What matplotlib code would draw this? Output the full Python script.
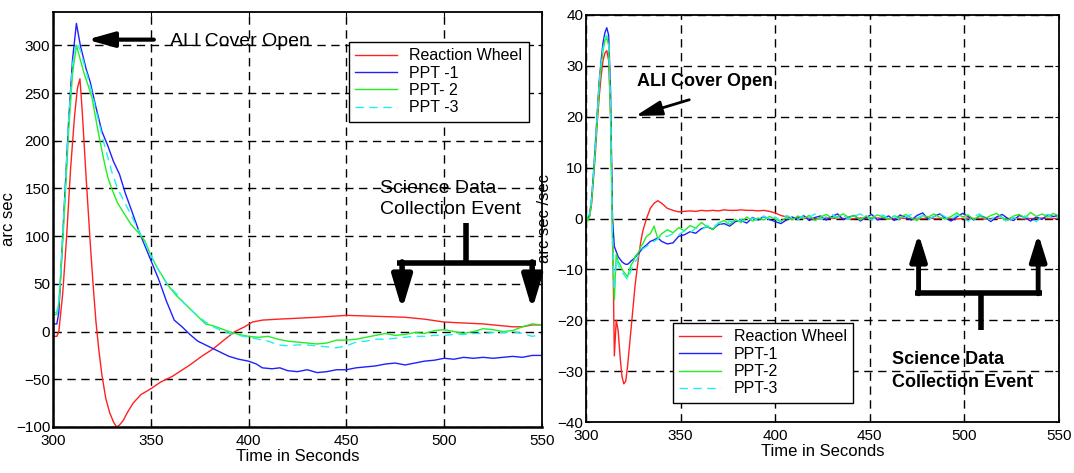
import numpy as np
import matplotlib
matplotlib.use("Agg")
import matplotlib.pyplot as plt

plt.rcParams['font.family'] = ['Liberation Sans', 'DejaVu Sans']

# ---- attitude error (arc sec) ----
t_rw = [300, 302, 303, 305, 307, 309, 311, 312.5, 313.8, 315, 317, 319, 320.5, 322, 323.5,
        325, 327, 329, 331, 332.5, 334, 336, 338, 341, 345, 350, 355, 361, 370, 376, 382,
        388, 393, 398, 402, 407, 415, 425, 435, 450, 465, 480, 490, 500, 510, 520, 530,
        535, 540, 545, 550]
err_rw = [-5, -5, 0, 40, 100, 170, 225, 255, 265, 230, 160, 95, 50, 10, -20,
          -45, -70, -85, -95, -100, -98, -93, -85, -75, -66, -60, -53, -47, -35, -26, -18,
          -8, 0, 5, 10, 12, 13, 14, 15, 17, 16, 15, 13, 10, 9, 8, 6,
          5, 5, 7, 7]

t_p1 = [300, 302, 303, 304, 306, 308, 310, 312, 314, 317, 319, 322, 325, 328, 331, 334,
        337, 340, 344, 348, 351, 354, 358, 362, 366, 370, 374, 378, 382, 386, 390, 395,
        400, 404, 407, 412, 416, 420, 425, 430, 435, 440, 445, 450, 455, 460, 465, 470,
        475, 480, 485, 490, 495, 500, 505, 510, 515, 520, 525, 530, 535, 540, 545, 550]
err_p1 = [8, 8, 20, 60, 140, 220, 285, 323, 300, 275, 262, 235, 210, 195, 178, 165,
          145, 128, 105, 85, 70, 55, 32, 12, 5, -3, -10, -14, -18, -22, -26, -29,
          -31, -34, -38, -39, -38, -41, -42, -40, -43, -42, -40, -40, -38, -37, -36, -34,
          -33, -35, -33, -31, -30, -28, -29, -27, -28, -27, -28, -27, -26, -27, -25, -25]

t_p23 = [300, 302, 303, 304, 306, 308, 310, 312, 314, 316, 318, 320, 322, 324, 326, 328,
         330, 333, 336, 340, 344, 347, 350, 353, 356, 359, 363, 367, 371, 375, 378, 382,
         386, 390, 395, 400, 405, 410, 415, 420, 425, 430, 435, 440, 445, 450, 455, 460,
         465, 470, 475, 480, 485, 490, 495, 500, 505, 510, 515, 520, 525, 530, 535, 540,
         545, 550]
err_p2 = [18, 18, 30, 60, 130, 210, 270, 300, 285, 270, 258, 245, 222, 200, 180, 162,
          150, 135, 125, 112, 103, 95, 80, 68, 58, 48, 38, 30, 22, 14, 8, 6,
          3, 0, -3, -5, -6, -5, -8, -10, -11, -12, -13, -12, -9, -9, -8, -6,
          -4, -2, -4, -3, -1, -2, 1, 2, 0, -2, 0, 3, 2, 0, 1, 5,
          8, 7]
err_p3 = [20, 20, 32, 65, 140, 220, 280, 303, 295, 280, 265, 250, 232, 215, 198, 183,
          168, 150, 138, 122, 105, 93, 80, 68, 57, 48, 40, 30, 22, 15, 10, 5,
          1, -2, -4, -6, -8, -10, -14, -15, -14, -14, -15, -16, -17, -15, -11, -10,
          -8, -8, -7, -6, -5, -5, -4, -4, -3, -3, -2, -2, -1, -1, 0, -2,
          -5, -3]

# ---- attitude rate (arc sec / sec) ----
t_rate = [300, 301, 302, 303, 304, 305, 306, 307, 308, 309, 310, 311, 312, 313, 314, 315,
          316, 317, 318, 319, 320, 321, 322, 323, 324, 325, 326, 327, 328, 329, 330, 332,
          334, 336, 338, 340] + list(range(343, 551, 3))

rate_rw = [0, 0.3, 0.5, 3, 8, 13, 19, 24, 28, 31, 32.5, 33, 31, 20, 0, -27,
           -20, -22, -27, -31, -32.5, -32, -29, -25, -21, -17, -13, -10, -7, -4.5, -2.5, 0,
           2, 3, 3.5, 3,
           2.0, 1.6, 1.3, 1.4, 1.5, 1.4, 1.6, 1.5, 1.6, 1.5,
           1.7, 1.6, 1.6, 1.7, 1.6, 1.6, 1.5, 1.6, 1.4, 1.1,
           0.6, 0.3, 0.1, 0.2, 0.0, 0.1, 0.0, -0.1, 0.1, 0.0,
           0.1, 0.0, -0.1, 0.0, 0.1, 0.0, 0.0, 0.1, 0.0, -0.1,
           0.0, 0.1, 0.0, 0.0, -0.1, 0.0, 0.1, 0.0, 0.0, 0.1,
           0.0, -0.1, 0.0, 0.1, 0.0, 0.0, -0.1, 0.0, 0.1, 0.0,
           0.0, 0.1, 0.0, -0.1, 0.0, 0.0, 0.1, 0.0, 0.0, 0.0]
rate_p1 = [0.5, 0, 1, 4, 9, 15, 21, 27, 31, 34.5, 36.5, 37.5, 36, 25, 0, -5.5,
           -6.5, -7.5, -8, -8.5, -8.8, -9, -9, -8.7, -8.3, -8, -7.6, -7.2, -6.8, -6.3, -5.8, -5.2,
           -4.5, -4.2, -3.8, -4.5,
           -5.0, -4.8, -3.5, -3.2, -2.6, -2.9, -2.0, -1.6, -2.1, -1.2,
           -1.0, -1.5, -0.6, -0.4, -0.9, 0.2, -0.3, 0.4, -0.2, -0.6,
           -1.0, -0.3, 0.3, -0.2, 0.6, -0.4, 0.2, 0.5, -0.3, 0.4,
           0.9, -0.2, 0.3, 0.6, -0.5, 0.2, 0.8, -0.3, 0.1, 0.5,
           -0.4, 0.7, 0.2, -0.3, 0.6, 1.1, -0.2, 0.4, 0.9, 0.1,
           -0.5, 0.3, 1.0, 0.4, -0.3, 0.5, 0.2, -0.6, 0.3, 0.8,
           0.0, -0.4, 0.6, 0.2, -0.5, 0.3, -0.2, 0.7, 0.4, 0.6]
rate_p2 = [1, -0.5, 0.5, 3.5, 8.5, 14, 20, 26, 30, 33, 35, 35.5, 34, 20, -5, -16,
           -7, -8.5, -9, -10, -10.5, -11, -11.5, -10, -9, -8.5, -7.5, -7, -6.5, -5.5, -5, -3.5,
           -3, -1.5, -4, -3,
           -2.2, -2.8, -1.8, -2.4, -1.4, -1.9, -0.8, -1.6, -2.2, -0.9,
           -0.4, -1.2, -0.2, -0.8, 0.3, -0.5, 0.1, -0.3, 0.4, -0.1,
           -0.6, 0.2, -0.3, 0.5, 0.0, 0.6, -0.4, 0.3, 0.8, 0.1,
           0.4, 0.9, 0.2, 0.6, -0.3, 0.5, 0.1, 0.7, 0.3, -0.2,
           0.5, 0.2, 0.8, 0.1, -0.4, 0.6, 0.3, 0.9, 0.2, -0.1,
           0.4, 1.1, 0.3, 0.7, -0.2, 0.5, 0.0, 0.6, 1.0, 0.2,
           -0.3, 0.5, 0.8, 0.1, 1.2, 0.4, 0.9, 0.3, 1.0, 0.5]
rate_p3 = [0, 0.5, 1, 4, 9, 14.5, 20.5, 26.5, 30.5, 33.5, 35.5, 36, 35, 22, -3, -14,
           -8, -9, -10, -10.5, -11, -11.5, -12, -11, -10, -9, -8.5, -8, -7, -6.5, -6, -5.5,
           -5, -4.5, -4, -3.5,
           -3.5, -3.0, -3.2, -2.4, -2.8, -1.9, -2.3, -1.4, -1.8, -0.9,
           -1.3, -0.5, -0.9, -0.2, -0.7, 0.1, -0.4, 0.5, -0.2, 0.3,
           -0.5, 0.6, 0.1, -0.3, 0.7, 0.2, 0.9, -0.2, 0.4, 0.8,
           0.1, 0.6, -0.2, 0.5, 0.9, 0.2, -0.3, 0.4, 0.7, 0.0,
           0.5, -0.4, 0.3, 0.8, 0.1, 0.6, -0.2, 0.4, 1.0, 0.3,
           -0.2, 0.7, 0.3, -0.5, 0.4, 0.9, 0.2, -0.3, 0.6, 0.1,
           -0.8, 0.3, -0.4, 0.5, 0.0, -0.6, 0.4, 0.8, -0.2, 0.3]

x_ticks = [300, 350, 400, 450, 500, 550]
err_ticks = [-100, -50, 0, 50, 100, 150, 200, 250, 300]
rate_ticks = [-40, -30, -20, -10, 0, 10, 20, 30, 40]

RED, BLUE, GREEN, CYAN = '#ff2020', '#1f1fff', '#22ee22', '#22eeee'


def style_axes(ax):
    ax.grid(True, color='black', linestyle=(0, (6, 4)), linewidth=1.0)
    ax.tick_params(direction='in', top=True, right=True, length=3, labelsize=11)
    ax.tick_params(axis='x', pad=5)
    ax.tick_params(axis='y', pad=2)
    for s in ax.spines.values():
        s.set_linewidth(1.3)
    ax.set_xlabel('Time in Seconds', fontsize=12, labelpad=1)


fig = plt.figure(figsize=(10.74, 4.73), dpi=100)

# left: error
ax1 = fig.add_axes([0.0493, 0.0973, 0.4553, 0.8774])
ax1.plot(t_rw, err_rw, color=RED, lw=1.0, label='Reaction Wheel')
ax1.plot(t_p1, err_p1, color=BLUE, lw=1.0, label='PPT -1')
ax1.plot(t_p23, err_p2, color=GREEN, lw=1.0, label='PPT- 2')
ax1.plot(t_p23, err_p3, color=CYAN, lw=1.0, ls=(0, (6, 4)), label='PPT -3')
ax1.set_xlim(300, 550)
ax1.set_ylim(-100, 335)
ax1.set_xticks(x_ticks)
ax1.set_yticks(err_ticks)
ax1.set_ylabel('arc sec', fontsize=12, labelpad=0)
style_axes(ax1)
ax1.spines['left'].set_linewidth(1.8)
ax1.spines['bottom'].set_linewidth(1.8)
leg1 = ax1.legend(loc='upper right', bbox_to_anchor=(0.973, 0.928), fontsize=11.5,
                  fancybox=False, framealpha=1, edgecolor='black', borderaxespad=0,
                  handlelength=2.6, labelspacing=0.15, borderpad=0.4)
leg1.get_frame().set_linewidth(1.0)

ax1.annotate('', xy=(316, 306), xytext=(353, 306),
             arrowprops=dict(arrowstyle='-|>,head_length=1.6,head_width=0.45',
                             mutation_scale=10, lw=3, color='black'))
ax1.text(360, 304, 'ALI Cover Open', fontsize=14, va='center', ha='left')
ax1.text(467, 139, 'Science Data\nCollection Event', fontsize=14, va='center',
         ha='left', linespacing=1.3)

# bracket pointing down at the data collection window
ax1.plot([511, 511], [114, 72], color='black', lw=4, solid_capstyle='butt')
ax1.plot([476, 547], [72, 72], color='black', lw=4, solid_capstyle='butt')
for xa in (478.5, 545):
    ax1.annotate('', xy=(xa, 23), xytext=(xa, 73),
                 arrowprops=dict(arrowstyle='-|>,head_length=2.0,head_width=0.6',
                                 mutation_scale=10, lw=4, color='black',
                                 shrinkA=0, shrinkB=0))

# right: rate
ax2 = fig.add_axes([0.5456, 0.1078, 0.4404, 0.8605])
ax2.plot(t_rate, rate_rw, color=RED, lw=1.0, label='Reaction Wheel')
ax2.plot(t_rate, rate_p1, color=BLUE, lw=1.0, label='PPT-1')
ax2.plot(t_rate, rate_p2, color=GREEN, lw=1.0, label='PPT-2')
ax2.plot(t_rate, rate_p3, color=CYAN, lw=1.0, ls=(0, (6, 4)), label='PPT-3')
ax2.set_xlim(300, 550)
ax2.set_ylim(-40, 40)
ax2.set_xticks(x_ticks)
ax2.set_yticks(rate_ticks)
ax2.set_ylabel('arc sec /sec', fontsize=12, labelpad=4)
style_axes(ax2)
leg2 = ax2.legend(loc='lower left', bbox_to_anchor=(0.184, 0.047), fontsize=11.5,
                  fancybox=False, framealpha=1, edgecolor='black', borderaxespad=0,
                  handlelength=2.6, labelspacing=0.15, borderpad=0.4)
leg2.get_frame().set_linewidth(1.0)

ax2.annotate('', xy=(324.8, 20), xytext=(356, 23.5),
             arrowprops=dict(arrowstyle='-|>,head_length=1.6,head_width=0.45',
                             mutation_scale=10, lw=2, color='black'))
ax2.text(327, 27.0, 'ALI Cover Open', fontsize=13, fontweight='bold',
         va='center', ha='left')
ax2.text(461.5, -29.9, 'Science Data\nCollection Event', fontsize=13,
         fontweight='bold', va='center', ha='left', linespacing=1.45)

# bracket pointing up at the data collection window
ax2.plot([508.6, 508.6], [-14.6, -21.9], color='black', lw=4, solid_capstyle='butt')
ax2.plot([474, 541], [-14.6, -14.6], color='black', lw=4, solid_capstyle='butt')
for xa in (475.8, 539):
    ax2.annotate('', xy=(xa, -3), xytext=(xa, -14.8),
                 arrowprops=dict(arrowstyle='-|>,head_length=1.6,head_width=0.5',
                                 mutation_scale=10, lw=3.5, color='black',
                                 shrinkA=0, shrinkB=0))

fig.savefig('out.png', dpi=100)
